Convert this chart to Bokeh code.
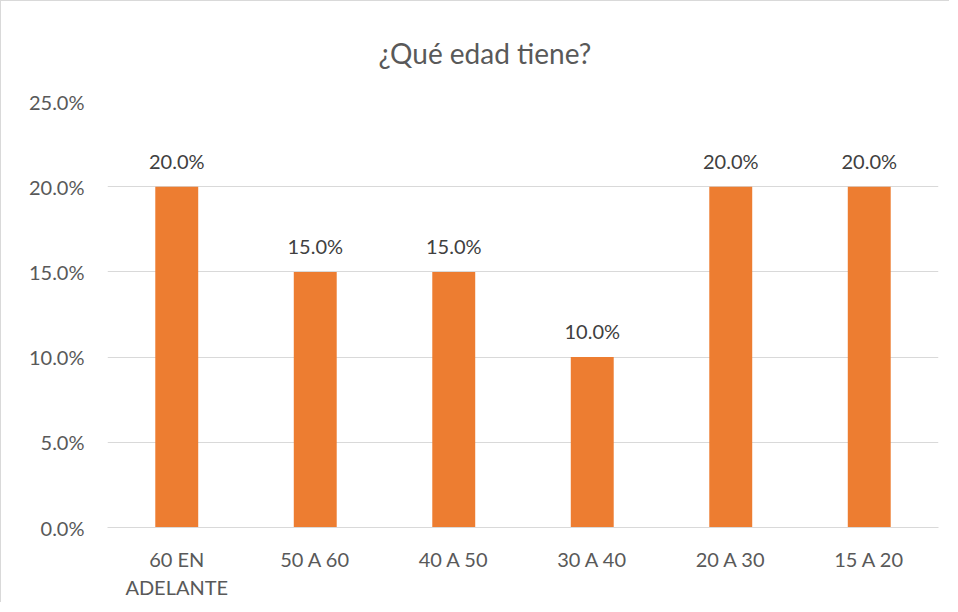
from bokeh.plotting import figure
from bokeh.models import ColumnDataSource, NumeralTickFormatter, FixedTicker, LabelSet
from bokeh.core.properties import value
from bokeh.embed import file_html
from bokeh.resources import INLINE

categories = ["60 EN\nADELANTE", "50 A 60", "40 A 50", "30 A 40", "20 A 30", "15 A 20"]
values = [0.20, 0.15, 0.15, 0.10, 0.20, 0.20]
y_ticks = [0.0, 0.05, 0.10, 0.15, 0.20, 0.25]

FONT = "Lato"
TXT = "#595959"

src = ColumnDataSource(dict(cat=categories, val=values,
                            lab=[f"{v*100:.1f}%" for v in values]))

p = figure(x_range=categories, y_range=(0, 0.25), width=949, height=602,
           output_backend="svg", toolbar_location=None,
           min_border_left=106, min_border_right=12, min_border_top=100, min_border_bottom=76,
           title="¿Qué edad tiene?")
p.styles = {"border-left": "1px solid #d9d9d9", "border-top": "1px solid #d9d9d9"}
p.title.align = "left"
p.title.text_font = FONT
p.title.text_font_size = "28px"
p.title.text_font_style = "normal"
p.title.text_color = TXT
p.title.offset = 271
p.title.standoff = 64

p.vbar(x="cat", top="val", width=0.31, source=src, color="#ED7D31", line_color=None)

labels = LabelSet(x="cat", y="val", text="lab", source=src, text_align="center",
                  text_baseline="alphabetic", y_offset=18, text_font=value(FONT),
                  text_font_size=value("20px"), text_color="#404040")
p.add_layout(labels)

p.outline_line_color = None
p.xgrid.grid_line_color = None
p.ygrid.grid_line_color = "#d9d9d9"
p.ygrid.grid_line_width = 1

p.yaxis.ticker = FixedTicker(ticks=y_ticks)
p.yaxis.formatter = NumeralTickFormatter(format="0.0%")
p.yaxis.axis_line_color = None
p.yaxis.major_tick_line_color = None
p.yaxis.minor_tick_line_color = None
p.yaxis.major_label_standoff = 17

p.xaxis.axis_line_color = "#d9d9d9"
p.xaxis.major_tick_line_color = None
p.xaxis.minor_tick_line_color = None
p.xaxis.major_label_standoff = 13

for ax in (p.xaxis[0], p.yaxis[0]):
    ax.major_label_text_font = FONT
    ax.major_label_text_font_size = "20px"
    ax.major_label_text_color = TXT

p.x_range.range_padding = 0
p.background_fill_color = "white"
p.border_fill_color = "white"

open("out.html", "w").write(file_html(p, INLINE))
